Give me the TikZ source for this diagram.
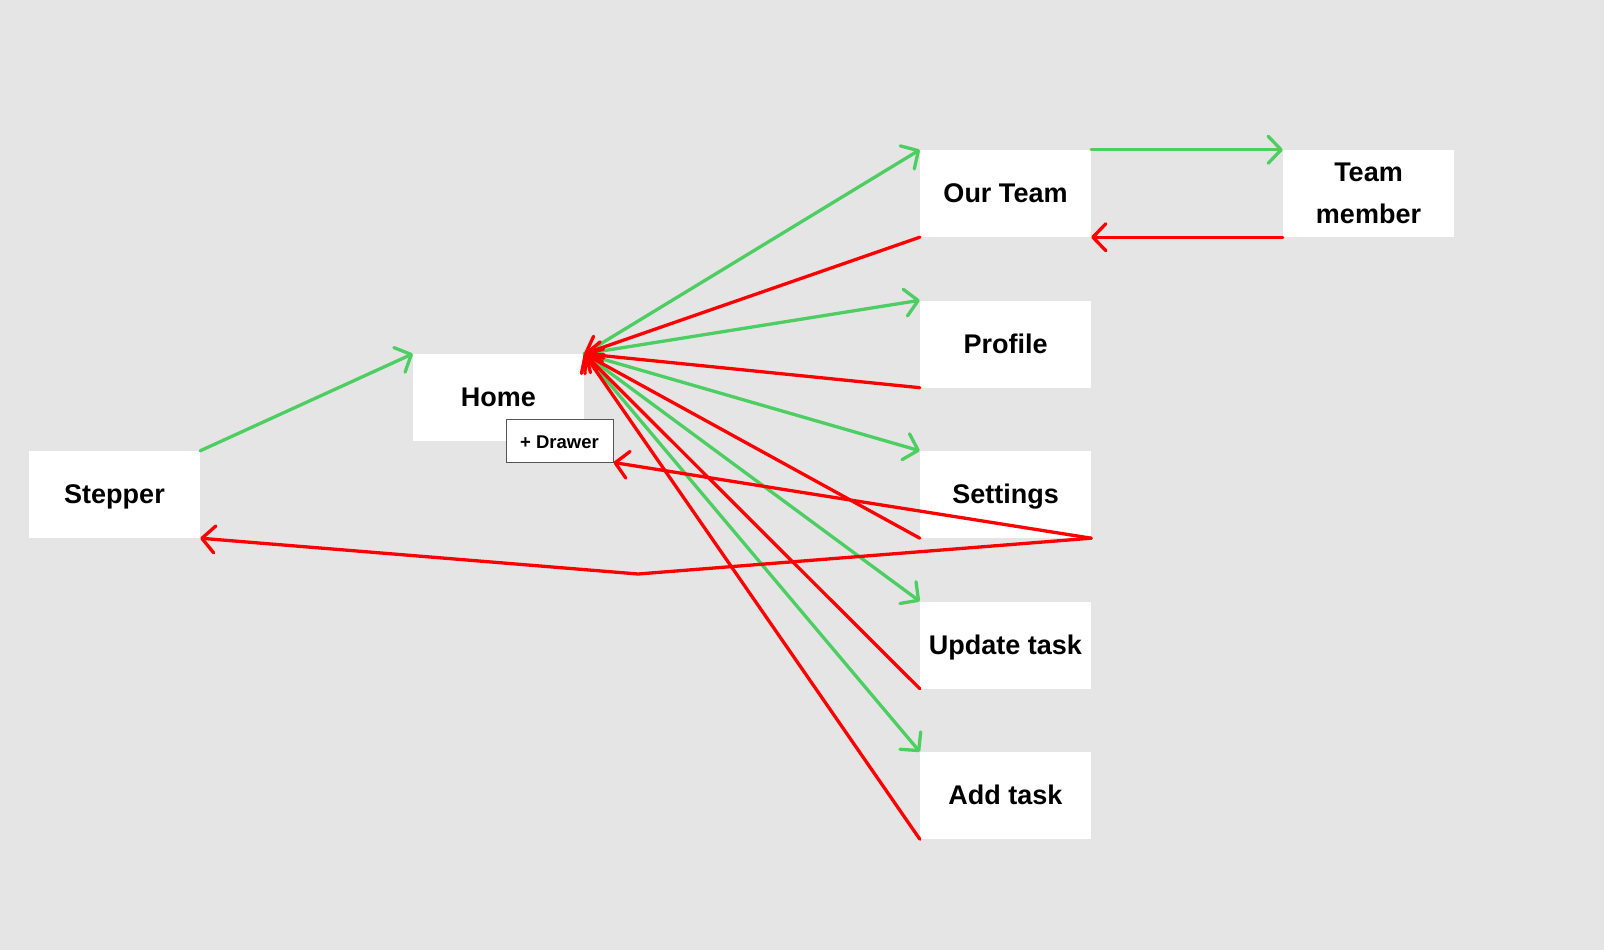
\documentclass[tikz,border=0pt]{standalone}
\usepackage{fontspec}
\setmainfont{Liberation Sans}
\usetikzlibrary{arrows.meta}
\definecolor{bg}{HTML}{E5E5E5}
\definecolor{okgreen}{RGB}{76,206,98}
\definecolor{backred}{RGB}{255,0,0}
\definecolor{drawerborder}{HTML}{555555}
\tikzset{
  screenbase/.style={fill=white, draw=none, minimum width=171pt, minimum height=87pt, inner sep=0pt,
    font=\fontsize{27}{42}\selectfont\bfseries, align=center},
  screen/.style={screenbase, text height=24pt, text depth=6pt},
  badge/.style={fill=white, draw=drawerborder, line width=1pt, minimum width=107pt, minimum height=43pt, inner sep=0pt,
    font=\fontsize{18.5}{22}\selectfont\bfseries, text height=20pt, text depth=5pt},
  fwd/.style={draw=okgreen, line width=3.3pt, line cap=round, line join=round,
    -{Straight Barb[length=13pt,width=27pt,line cap=round,line join=round]}},
  back/.style={draw=backred, line width=3.3pt, line cap=round, line join=round,
    -{Straight Barb[length=13pt,width=27pt,line cap=round,line join=round]}},
}
\begin{document}
\begin{tikzpicture}[x=1pt,y=-1pt]
\fill[bg] (0,0) rectangle (1604,950);
\useasboundingbox (0,0) rectangle (1604,950);

\node[screen] (stepper) at (114.5,494.5) {Stepper};
\node[screen] (home) at (498.5,397.5) {Home};
\node[badge] (drawer) at (559.5,440.5) {+ Drawer};
\node[screen] (ourteam) at (1005.5,193.5) {Our Team};
\node[screenbase] (member) at (1368.5,193.5) {Team\\member};
\node[screen] (profile) at (1005.5,344) {Profile};
\node[screen] (settings) at (1005.5,494.5) {Settings};
\node[screen] (update) at (1005.5,645) {Update task};
\node[screen] (addtask) at (1005.5,795.5) {Add task};
\coordinate (bend) at (638,574);

% forward (green)
\draw[fwd] (stepper.north east) -- (home.north west);
\draw[fwd] (home.north east) -- (ourteam.north west);
\draw[fwd] (home.north east) -- (profile.north west);
\draw[fwd] (home.north east) -- (settings.north west);
\draw[fwd] (home.north east) -- (update.north west);
\draw[fwd] (home.north east) -- (addtask.north west);
\draw[fwd] (ourteam.north east) -- (member.north west);

% back (red)
\draw[back] (ourteam.south west) -- (home.north east);
\draw[back] (profile.south west) -- (home.north east);
\draw[back] (settings.south west) -- (home.north east);
\draw[back] (update.south west) -- (home.north east);
\draw[back] (addtask.south west) -- (home.north east);
\draw[back] (member.south west) -- (ourteam.south east);
\draw[back] (settings.south east) -- (drawer.south east);
\draw[back] (settings.south east) -- (bend) -- (stepper.south east);
\end{tikzpicture}
\end{document}
